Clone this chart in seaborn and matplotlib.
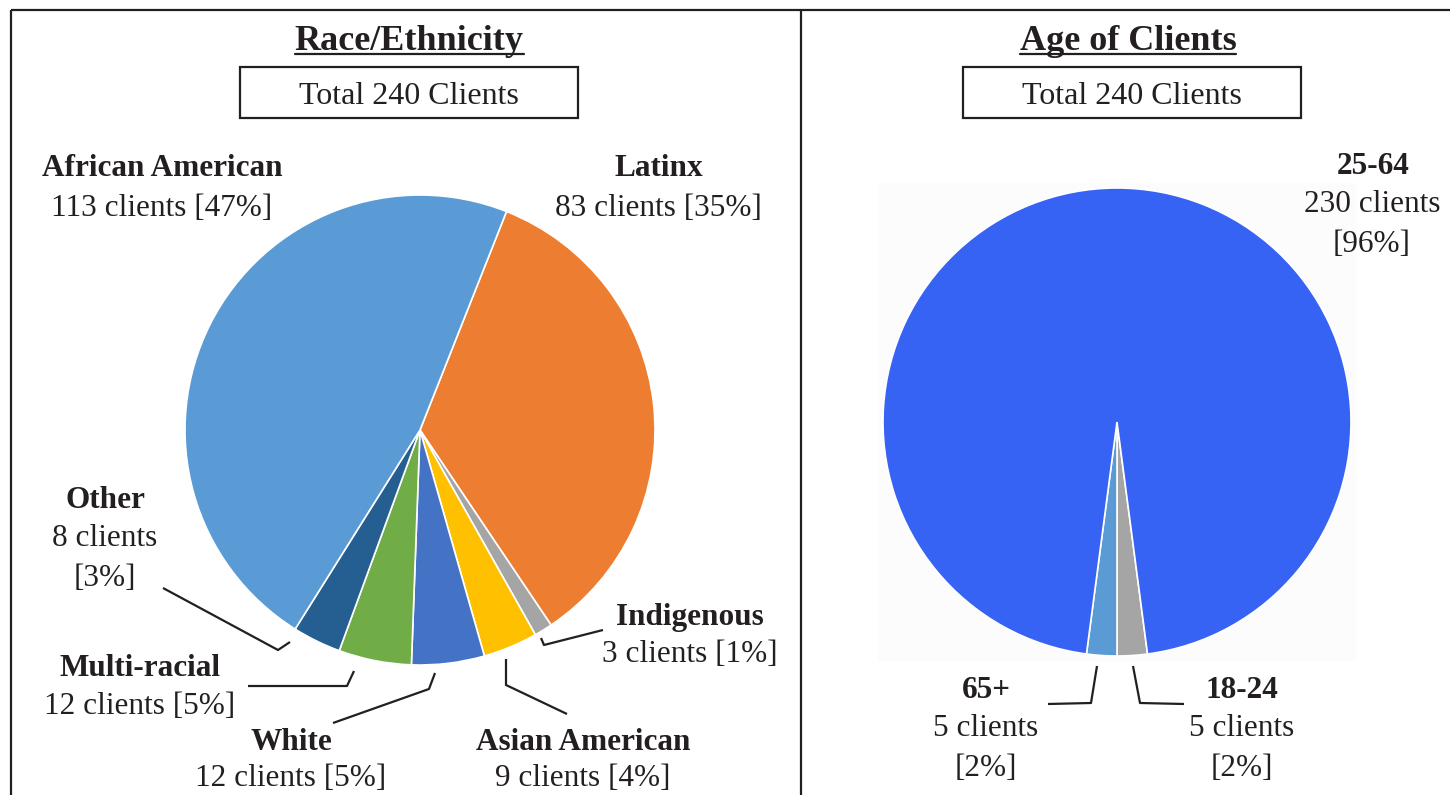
import numpy as np
import seaborn as sns
import matplotlib.pyplot as plt
from matplotlib.lines import Line2D
from matplotlib.patches import Rectangle

# Race / ethnicity data
race_labels = ["Latinx", "Indigenous", "Asian American", "White",
               "Multi-racial", "Other", "African American"]
race_counts = [83, 3, 9, 12, 12, 8, 113]
race_pcts = [35, 1, 4, 5, 5, 3, 47]
race_colors = ["#ED7D31", "#A5A5A5", "#FFC000", "#4472C4",
               "#70AD47", "#255E91", "#5B9BD5"]

# Age data
age_labels = ["18-24", "65+", "25-64"]
age_counts = [5, 5, 230]
age_pcts = [2, 2, 96]
age_colors = ["#A5A5A5", "#5B9BD5", "#3763F4"]

total_clients = 240

W, H = 1450, 795
INK = "#231f20"

sns.set_theme(style="white")
plt.rcParams["font.family"] = ["Liberation Serif", "DejaVu Serif"]

fig = plt.figure(figsize=(W / 100, H / 100), dpi=100)


def fx(x):
    return x / W


def fy(y):
    return 1 - y / H


def line(xs, ys, lw=1.6):
    fig.add_artist(Line2D([fx(v) for v in xs], [fy(v) for v in ys],
                          color=INK, lw=lw, solid_capstyle="butt"))


def txt(x, y, s, bold=False, size=22.5):
    # small nudge so the visual centre of the glyphs sits on y
    return fig.text(fx(x), fy(y + 4), s, ha="center", va="center", color=INK,
                    fontsize=size, fontweight="bold" if bold else "normal")


# panel frames
line([11, 1450], [10, 10])
line([11, 11], [10, 795])
line([801, 801], [10, 795])

# faint plot-area shade on the right
fig.add_artist(Rectangle((fx(878), fy(660)), (1355 - 878) / W, (660 - 183) / H,
                         transform=fig.transFigure, color="#fcfcfc", zorder=0))


def pie_axes(cx, cy, r):
    half = 1.2 * r
    ax = fig.add_axes([fx(cx - half), fy(cy + half), 2 * half / W, 2 * half / H])
    ax.patch.set_alpha(0)
    return ax


def fix_limits(ax):
    ax.set_xlim(-1.2, 1.2)
    ax.set_ylim(-1.2, 1.2)
    ax.axis("off")


# left pie
ax1 = pie_axes(420, 430, 235)
ax1.pie(race_counts, colors=race_colors, startangle=90 - 21.6, counterclock=False,
        radius=1, wedgeprops=dict(edgecolor="white", linewidth=1.2))
fix_limits(ax1)

# right pie
ax2 = pie_axes(1117, 422, 234)
ax2.pie(age_counts, colors=age_colors, startangle=90 - 172.5, counterclock=False,
        radius=1, wedgeprops=dict(edgecolor="white", linewidth=1.2))
fix_limits(ax2)

# titles with underline
titles = []
for cx, s in [(409, "Race/Ethnicity"), (1128, "Age of Clients")]:
    titles.append(txt(cx, 37, s, bold=True, size=26))

# total boxes
for x0 in [240, 963]:
    fig.add_artist(Rectangle((fx(x0), fy(118)), 338 / W, 51 / H,
                             transform=fig.transFigure, fill=False,
                             edgecolor=INK, lw=1.6))
    txt(x0 + 169, 93, f"Total {total_clients} Clients", size=23)

# race labels: (name line position, count line positions)
race_pos = {
    "African American": (162, 165, [(162, 204)]),
    "Latinx": (659, 165, [(658, 204)]),
    "Other": (105, 496, [(105, 534), (105, 575)]),
    "Multi-racial": (140, 665, [(140, 703)]),
    "White": (291, 738, [(291, 775)]),
    "Asian American": (583, 738, [(583, 775)]),
    "Indigenous": (690, 613, [(690, 651)]),
}
for lab, n, p in zip(race_labels, race_counts, race_pcts):
    x, y, rest = race_pos[lab]
    txt(x, y, lab, bold=True)
    if len(rest) == 1:
        txt(rest[0][0], rest[0][1], f"{n} clients [{p}%]")
    else:
        txt(rest[0][0], rest[0][1], f"{n} clients")
        txt(rest[1][0], rest[1][1], f"[{p}%]")

age_pos = {
    "25-64": (1373, 163, 1372),
    "65+": (986, 686, 986),
    "18-24": (1242, 686, 1242),
}
for lab, n, p in zip(age_labels, age_counts, age_pcts):
    x, y, x2 = age_pos[lab]
    txt(x, y, lab, bold=True)
    txt(x2, y + 38, f"{n} clients")
    txt(x2, y + 78, f"[{p}%]")

# leader lines
line([163, 278, 290], [588, 650, 642])
line([248, 347, 354], [686, 686, 671])
line([333, 429, 435], [723, 689, 673])
line([506, 506, 567], [659, 685, 714])
line([541, 544, 603], [638, 645, 630])
line([1097, 1091, 1048], [666, 703, 704])
line([1133, 1140, 1184], [666, 703, 704])

# underline titles
fig.canvas.draw()
r = fig.canvas.get_renderer()
for t in titles:
    bb = t.get_window_extent(renderer=r)
    fig.add_artist(Line2D([bb.x0 / W, bb.x1 / W], [fy(54), fy(54)],
                          color=INK, lw=1.6))

fig.savefig("out.png", dpi=100, facecolor="white")
